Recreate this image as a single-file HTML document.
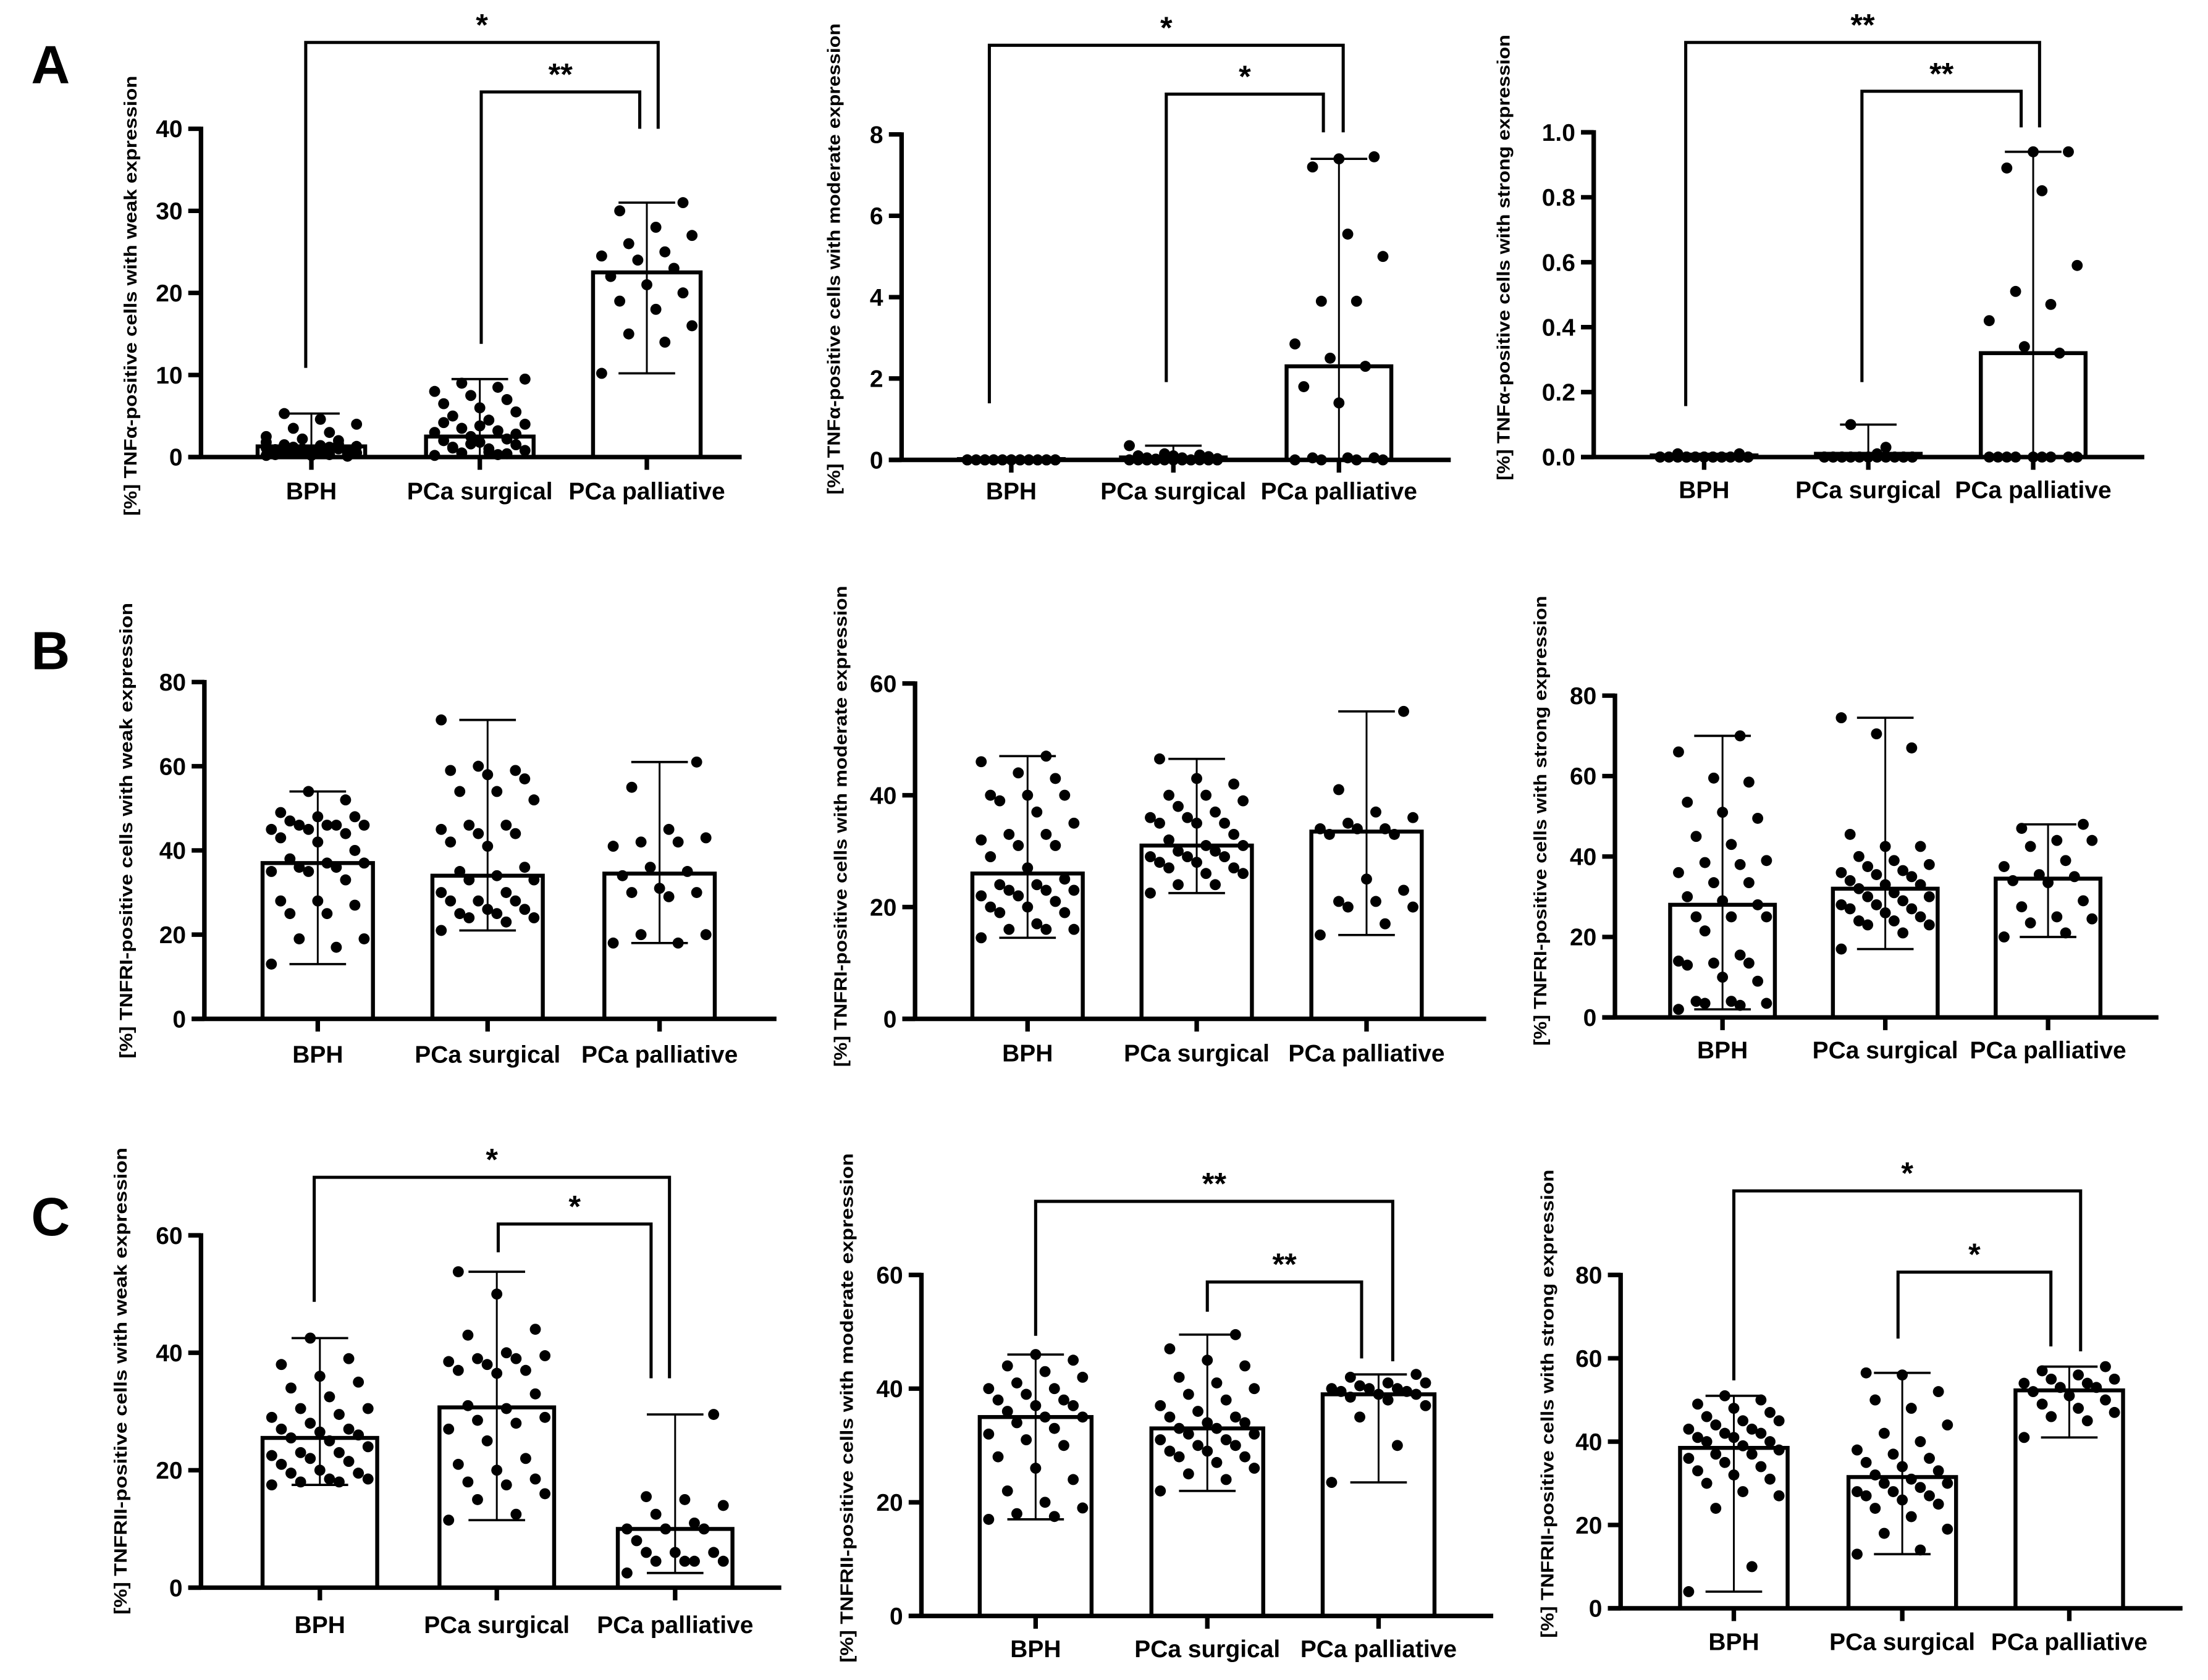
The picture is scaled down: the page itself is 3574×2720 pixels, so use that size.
<!DOCTYPE html>
<html><head><meta charset="utf-8"><title>TNF panels</title>
<style>html,body{margin:0;padding:0;background:#fff}svg{display:block}text{font-family:"Liberation Sans",Arial,sans-serif;font-weight:bold;fill:#000}</style>
</head><body>
<svg id="fig" xmlns="http://www.w3.org/2000/svg" width="3574" height="2720" viewBox="0 0 1560 1187.25">
<rect width="1560" height="1187.25" fill="#fff"/>
<text x="22" y="59" font-size="38">A</text>
<text x="22" y="473" font-size="38">B</text>
<text x="22" y="873" font-size="38">C</text>
</svg>
<script>
const categories=["BPH","PCa surgical","PCa palliative"];
// A1 TNFa weak
const a1Means=[1.3,2.5,22.5];const a1Low=[0,0,10.2];const a1High=[5.3,9.5,31];
const a1Bph=[0.2,0.3,0.5,0.5,0.6,0.7,0.8,0.8,0.9,1,1,1.1,1.2,1.2,1.3,1.4,1.5,0.4,0.6,0.3,2,2.2,2.5,3,3.5,4,4.6,5.3,0.1,0.2,0.9,1.6,0.7,1.8];
const a1Surg=[0.2,0.3,0.5,0.8,1,1.2,1.5,1.8,2,2.2,2.5,3,3.2,3.5,4,4.5,5,5.5,6,6.5,7,7.5,8,8.5,9,9.5,0.6,1.1,2.8,3.8,4.2,0.4,1.6];
const a1Pall=[10.2,14,15,16,18,19,20,21,22,23,24,24.5,25,26,27,28,30,31];
// A2 TNFa moderate
const a2Means=[0.02,0.06,2.3];const a2Low=[0,0,0];const a2High=[0.05,0.35,7.4];
const a2Bph=[0,0,0,0,0,0,0,0,0,0,0,0,0,0,0,0,0,0,0,0,0,0,0,0,0,0,0,0,0,0];
const a2Surg=[0,0,0,0,0,0,0,0,0,0,0,0,0,0.02,0.03,0.05,0.05,0.08,0.1,0.1,0.12,0.15,0.35,0,0,0,0,0,0,0];
const a2Pall=[0,0,0,0,0.05,0.05,0.05,1.4,1.8,2.3,2.5,2.85,3.9,3.9,5,5.55,7.2,7.45,7.4];
// A3 TNFa strong
const a3Means=[0.005,0.01,0.32];const a3Low=[0,0,0];const a3High=[0.01,0.1,0.94];
const a3Bph=[0,0,0,0,0,0,0.01,0,0,0,0,0,0,0,0,0,0.01,0,0,0,0,0,0,0,0,0,0,0,0,0];
const a3Surg=[0,0,0,0,0.01,0,0,0,0,0,0,0,0.03,0.1,0,0,0,0,0,0,0,0,0,0,0,0,0,0,0,0];
const a3Pall=[0,0,0,0,0,0,0,0,0,0.32,0.34,0.42,0.47,0.51,0.59,0.82,0.89,0.94,0.94];
// B1 TNFRI weak
const b1Means=[37,34,34.5];const b1Low=[13,21,18];const b1High=[54,71,61];
const b1Bph=[13,17,19,19,25,25,27,28,28,33,35,35,36,36,37,37,38,40,42,43,44,45,45,46,46,46,46,47,48,48,49,52,54];
const b1Surg=[21,23,24,24,25,25,26,26,28,28,28,30,30,33,33,34,35,36,41,42,44,44,45,46,46,52,54,54,57,58,59,59,60,71];
const b1Pall=[18,18,20,20,29,30,30,31,34,35,36,41,42,42,43,45,55,61];
// B2 TNFRI moderate
const b2Means=[26,31,33.5];const b2Low=[14.5,22.5,15];const b2High=[47,46.5,55];
const b2Bph=[14.5,16,16,16,17,19,19,20,20,21,22,22,23,23,23,24,24,25,27,29,31,31,32,33,33,35,37,39,40,40,40,43,44,46,47];
const b2Surg=[22.5,24,24,26,26,27,27,28,28,29,29,29,30,30,31,31,32,33,35,35,35,36,36,37,38,39,40,40,42,43,46.5];
const b2Pall=[15,17,20,20,21,21,23,25,33,33,34,34,34,35,36,37,41,55];
// B3 TNFRI strong
const b3Means=[28,32,34.5];const b3Low=[2,17,20];const b3High=[70,74.5,48];
const b3Bph=[2,3,3.5,3.5,4,4,9,10,13,13.5,13.5,14,15.5,21.5,25,25,25,28,29,30,33.5,33.5,36,38,38.5,39,43,45,49.5,51,53.5,58.5,59.5,66,70];
const b3Surg=[17,21,23,23,24,24,25,26,27,27,28,28,29,30,30,31,32,33,33,34,35,35.5,36,36.5,37.5,38,39,40,42.5,42.5,45.5,67,70.5,74.5];
const b3Pall=[20,21,23.5,24.5,25,27.5,29,33.5,34,35,35.5,37.5,39,42.5,44,44,47,48];
// C1 TNFRII weak
const c1Means=[25.5,30.7,10];const c1Low=[17.5,11.5,2.5];const c1High=[42.5,53.8,29.5];
const c1Bph=[17.5,18,18,18.5,18.5,19.5,19.5,20,21,21.5,22,22.5,23,23,24,25,25.5,26,26.5,27,27,28,29,29.5,30.5,30.5,32.5,34,35,36,38,39,42.5];
const c1Surg=[11.5,12.5,15,16,17.5,18,18.5,20,21,22,25,27,28,28.5,29,30.5,31,33,36.5,37,37,38,38.5,39,39,39.5,40,43,44,50,53.8];
const c1Pall=[2.5,4.5,4.5,4.5,4.5,6,6,6,8,10,10,10,11,12.5,14,15,15.5,29.5];
// C2 TNFRII moderate
const c2Means=[35,33,39];const c2Low=[17,22,23.5];const c2High=[46,49.5,42.5];
const c2Bph=[17,17.5,18,19,20,22,24,26,28,30,31,32,33,34,35,35,36,37,37,38,38,39,40,40,41,42,43,44,45,46];
const c2Surg=[22,24,25,26,27,28,28,29,29,30,30,31,31,32,32,33,33,34,34,35,35,36,37,38,39,40,41,42,44,45,47,49.5];
const c2Pall=[23.5,30,35,37,38,38.5,39,39,39.5,39.5,40,40,40,40.5,41,41,42,42.5];
// C3 TNFRII strong
const c3Means=[38.5,31.5,52.3];const c3Low=[4,13,41];const c3High=[51,56.5,58];
const c3Bph=[4,10,24,27,28,30,31,32,33,34,35,36,37,37,38,39,40,40,41,41,42,42,43,43,44,45,45,46,47,48,49,50,51];
const c3Surg=[13,14,18,19,22,24,25,26,27,27,28,28,29,30,30,31,32,33,34,35,36,37,38,40,42,44,48,50,52,56,56.5];
const c3Pall=[41,45,46,47,48,49,50,51,52,53,53,54,54,55,55,56,57,58];

const NS='http://www.w3.org/2000/svg';
const svg=document.getElementById('fig');
function mk(tag,attrs,parent){const e=document.createElementNS(NS,tag);for(const k in attrs)e.setAttribute(k,attrs[k]);(parent||svg).appendChild(e);return e;}

const panels=[
 {id:'a1',means:a1Means,low:a1Low,high:a1High,pts:[a1Bph,a1Surg,a1Pall],ax:142,yTop:91,yBot:323,max:40,step:10,dec:0,centers:[220,339,457],bw:76,xEnd:524,labelY:353,
  title:'[%] TNFα-positive cells with weak expression',tx:92,tcy:209,tlen:311,
  br:[{x1:216,x2:465,y:30,d1:260,d2:91,t:'*'},{x1:340,x2:452,y:65,d1:243,d2:91,t:'**'}]},
 {id:'a2',means:a2Means,low:a2Low,high:a2High,pts:[a2Bph,a2Surg,a2Pall],ax:637,yTop:95,yBot:325,max:8,step:2,dec:0,centers:[714.5,829,946],bw:74,xEnd:1025,labelY:353,
  title:'[%] TNFα-positive cells with moderate expression',tx:589,tcy:183,tlen:333,
  br:[{x1:699,x2:949,y:32,d1:285,d2:93.5,t:'*'},{x1:824,x2:935,y:66.5,d1:270,d2:93.5,t:'*'}]},
 {id:'a3',means:a3Means,low:a3Low,high:a3High,pts:[a3Bph,a3Surg,a3Pall],ax:1126,yTop:93.5,yBot:323,max:1,step:0.2,dec:1,centers:[1204,1320,1436.5],bw:74,xEnd:1515,labelY:352,
  title:'[%] TNFα-positive cells with strong expression',tx:1062,tcy:182,tlen:315,
  br:[{x1:1191,x2:1441,y:30,d1:287,d2:90,t:'**'},{x1:1315.5,x2:1428,y:64.5,d1:270,d2:90,t:'**'}]},
 {id:'b1',means:b1Means,low:b1Low,high:b1High,pts:[b1Bph,b1Surg,b1Pall],ax:144.4,yTop:482,yBot:720,max:80,step:20,dec:0,centers:[224.5,344.5,466],bw:78,xEnd:548.6,labelY:751,
  title:'[%] TNFRI-positive cells with weak expression',tx:89,tcy:587,tlen:322,br:[]},
 {id:'b2',means:b2Means,low:b2Low,high:b2High,pts:[b2Bph,b2Surg,b2Pall],ax:646.5,yTop:483,yBot:720,max:60,step:20,dec:0,centers:[726,845.5,965.5],bw:78,xEnd:1050,labelY:750,
  title:'[%] TNFRI-positive cells with moderate expression',tx:593.6,tcy:584,tlen:340,br:[]},
 {id:'b3',means:b3Means,low:b3Low,high:b3High,pts:[b3Bph,b3Surg,b3Pall],ax:1141,yTop:491.6,yBot:719,max:80,step:20,dec:0,centers:[1217,1332,1447],bw:74,xEnd:1525,labelY:748,
  title:'[%] TNFRI-positive cells with strong expression',tx:1088,tcy:580,tlen:318,br:[]},
 {id:'c1',means:c1Means,low:c1Low,high:c1High,pts:[c1Bph,c1Surg,c1Pall],ax:142,yTop:873,yBot:1122,max:60,step:20,dec:0,centers:[226,351,477],bw:81,xEnd:552,labelY:1154,
  title:'[%] TNFRII-positive cells with weak expression',tx:85,tcy:976,tlen:330,
  br:[{x1:222,x2:473,y:832,d1:920,d2:974,t:'*'},{x1:352,x2:460,y:865,d1:885,d2:974,t:'*'}]},
 {id:'c2',means:c2Means,low:c2Low,high:c2High,pts:[c2Bph,c2Surg,c2Pall],ax:651,yTop:901,yBot:1142,max:60,step:20,dec:0,centers:[731.7,853,974],bw:79,xEnd:1055,labelY:1171,
  title:'[%] TNFRII-positive cells with moderate expression',tx:598,tcy:995,tlen:360,
  br:[{x1:731.7,x2:984,y:849,d1:944,d2:962,t:'**'},{x1:853,x2:962,y:906,d1:927,d2:960,t:'**'}]},
 {id:'c3',means:c3Means,low:c3Low,high:c3High,pts:[c3Bph,c3Surg,c3Pall],ax:1145,yTop:901,yBot:1136.6,max:80,step:20,dec:0,centers:[1225,1344,1462],bw:76,xEnd:1542,labelY:1166,
  title:'[%] TNFRII-positive cells with strong expression',tx:1093,tcy:992,tlen:331,
  br:[{x1:1225,x2:1470,y:841.6,d1:975.5,d2:955,t:'*'},{x1:1341,x2:1449,y:899,d1:946,d2:951.5,t:'*'}]}
];

panels.forEach(p=>{
  const g=mk('g',{});
  
  
  const y=v=>p.yBot-(v/p.max)*(p.yBot-p.yTop);
  p.means.forEach((m,i)=>{
    const r=mk('rect',{x:p.centers[i]-p.bw/2,y:y(m),width:p.bw,height:p.yBot-y(m),fill:'#fff',stroke:'#000','stroke-width':2.8},g);
    
    
  });
  p.pts.forEach((arr,i)=>{
    arr.forEach((v,j)=>{
      const off=((((j*7)%11)/10)-0.5)*(p.bw*0.84);
      const c=mk('circle',{cx:p.centers[i]+off,cy:y(v),r:3.9,fill:'#000'},g);
      
      
    });
  });
  p.means.forEach((m,i)=>{
    const cx=p.centers[i];
    const e=mk('g',{stroke:'#000'},g);
    
    
    mk('line',{x1:cx,x2:cx,y1:y(p.low[i]),y2:y(p.high[i]),'stroke-width':1.3},e);
    mk('line',{x1:cx-20,x2:cx+20,y1:y(p.high[i]),y2:y(p.high[i]),'stroke-width':1.6},e);
    mk('line',{x1:cx-20,x2:cx+20,y1:y(p.low[i]),y2:y(p.low[i]),'stroke-width':1.6},e);
  });
  const axg=mk('g',{stroke:'#000','stroke-width':3.2,fill:'none'},g);
  
  
  mk('line',{x1:p.ax,x2:p.ax,y1:p.yTop-1.5,y2:p.yBot},axg);
  mk('line',{x1:p.ax-9,x2:p.xEnd,y1:p.yBot,y2:p.yBot},axg);
  for(let v=0;v<=p.max+1e-9;v+=p.step){
    const yy=y(v);
    mk('line',{x1:p.ax-9,x2:p.ax,y1:yy,y2:yy},axg);
    const t=mk('text',{x:p.ax-13,y:yy+6,'font-size':17,'text-anchor':'end'},g);
    t.textContent=v.toFixed(p.dec);
    
    
  }
  p.centers.forEach((cx,i)=>{
    mk('line',{x1:cx,x2:cx,y1:p.yBot,y2:p.yBot+9},axg);
    const t=mk('text',{x:cx,y:p.labelY,'font-size':17,'text-anchor':'middle'},g);
    t.textContent=categories[i];
    
    
  });
  const tt=mk('text',{x:0,y:0,'font-size':12.5,'text-anchor':'middle',textLength:p.tlen,lengthAdjust:'spacingAndGlyphs',transform:'translate('+(p.tx+4.5)+','+p.tcy+') rotate(-90)'},g);
  tt.textContent=p.title;
  
  
  p.br.forEach(b=>{
    const bg=mk('g',{},g);
    
    
    mk('polyline',{points:b.x1+','+b.d1+' '+b.x1+','+b.y+' '+b.x2+','+b.y+' '+b.x2+','+b.d2,fill:'none',stroke:'#000','stroke-width':2.2},bg);
    const st=mk('text',{x:(b.x1+b.x2)/2,y:b.y-5,'font-size':22,'text-anchor':'middle'},bg);
    st.textContent=b.t;
  });
});
</script>
</body></html>
